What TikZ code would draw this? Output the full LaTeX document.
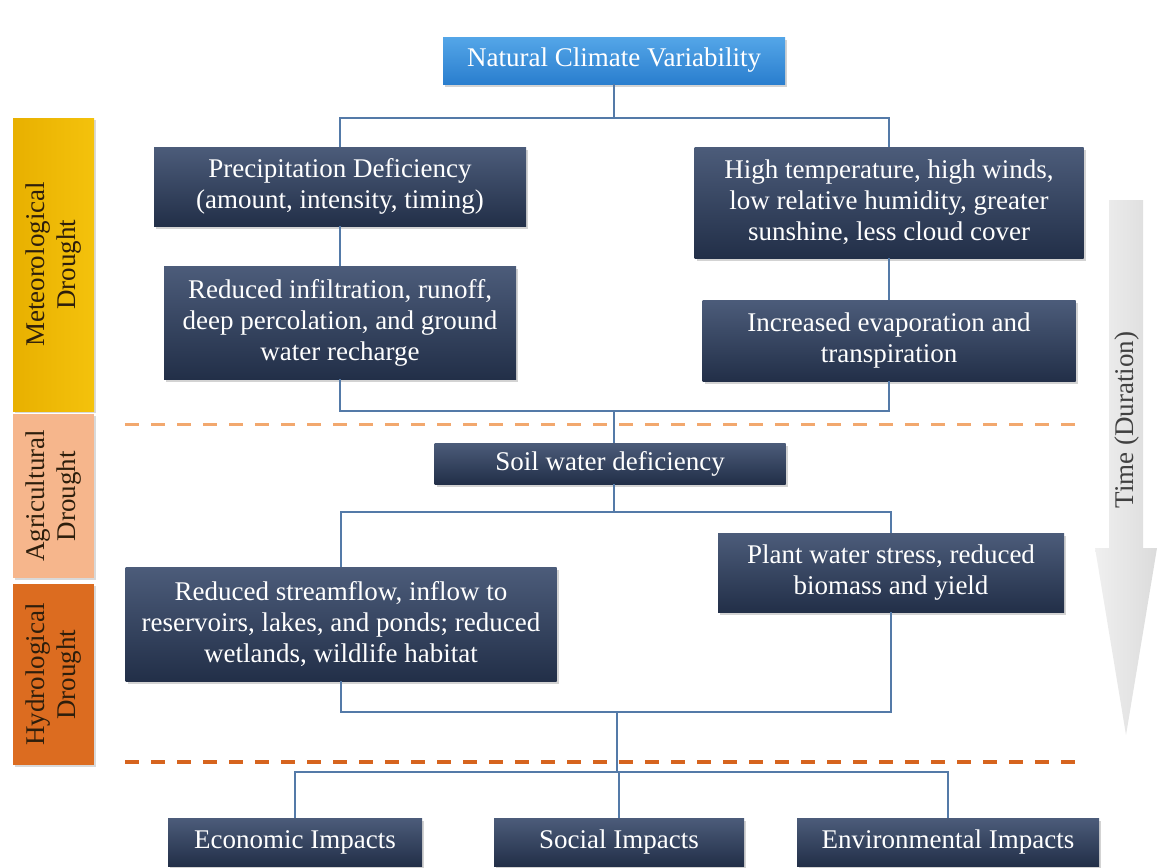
\documentclass[tikz,border=0pt]{standalone}
\usepackage{fontspec}
\setmainfont{Liberation Serif}
\usetikzlibrary{shadows}
\definecolor{boxtop}{RGB}{76,92,122}
\definecolor{boxbot}{RGB}{34,47,72}
\definecolor{bluetop}{RGB}{84,166,232}
\definecolor{bluebot}{RGB}{42,126,206}
\definecolor{connc}{RGB}{84,122,168}
\definecolor{metc}{RGB}{244,194,12}
\definecolor{metd}{RGB}{232,176,0}
\definecolor{agrc}{RGB}{246,182,140}
\definecolor{hydc}{RGB}{220,108,32}
\definecolor{dashA}{RGB}{242,168,110}
\definecolor{dashB}{RGB}{214,100,30}
\definecolor{bartext}{RGB}{45,30,12}
\tikzset{
  dbox/.style={rectangle, inner sep=0pt, align=center, text=white,
    top color=boxtop, bottom color=boxbot, draw=none,
    drop shadow={shadow xshift=1.2pt, shadow yshift=-1.5pt, opacity=0.35},
    font=\fontsize{13.5pt}{15.5pt}\selectfont},
  bbox/.style={dbox, top color=bluetop, bottom color=bluebot},
  conn/.style={draw=connc, line width=0.6pt},
  bar/.style={rectangle, inner sep=0pt, align=center, text=bartext, rotate=90,
    minimum height=40.5pt,
    drop shadow={shadow xshift=1pt, shadow yshift=-1.2pt, opacity=0.3},
    font=\fontsize{13.5pt}{15.5pt}\selectfont},
  sepline/.style={dash pattern=on 7pt off 6pt, line width=1.5pt}
}
\begin{document}
\begin{tikzpicture}[x=0.5pt, y=-0.5pt]
\useasboundingbox (0,0) rectangle (1159,867);
% separators
\draw[sepline, draw=dashA] (125,424) -- (1080,424);
\draw[sepline, draw=dashB, line width=2pt] (125,762) -- (1080,762);
% side bars
\node[bar, left color=metd, right color=metc, minimum width=146.5pt] (met) at (53.5,264.5) {Meteorological\\Drought};
\node[bar, fill=agrc, minimum width=82pt] (agr) at (53.5,496) {Agricultural\\Drought};
\node[bar, fill=hydc, minimum width=90.5pt] (hyd) at (53.5,674.5) {Hydrological\\Drought};
% time arrow
\path[left color=gray!12, right color=gray!28]
  (1109,200) -- (1143,200) -- (1143,548) -- (1157,548) -- (1126,735) -- (1095,548) -- (1109,548) -- cycle;
\node[rotate=90, text=black!75, font=\fontsize{13.5pt}{15.5pt}\selectfont] (time) at (1127,420) {Time (Duration)};
% boxes
\node[bbox, minimum width=171pt, minimum height=23.5pt] (nat) at (614,60.5) {Natural Climate Variability};
\node[dbox, minimum width=186pt, minimum height=39.5pt] (prec) at (340,186.5) {Precipitation Deficiency\\(amount, intensity, timing)};
\node[dbox, minimum width=176pt, minimum height=56.5pt] (redinf) at (340,322.5) {Reduced infiltration, runoff,\\deep percolation, and ground\\water recharge};
\node[dbox, minimum width=194.5pt, minimum height=55.5pt] (high) at (889,202.5) {High temperature, high winds,\\low relative humidity, greater\\sunshine, less cloud cover};
\node[dbox, minimum width=186.5pt, minimum height=40.5pt] (evap) at (889,340.5) {Increased evaporation and\\transpiration};
\node[dbox, minimum width=175.5pt, minimum height=20.5pt] (soil) at (610,463.5) {Soil water deficiency};
\node[dbox, minimum width=173pt, minimum height=39.5pt] (plant) at (891,572.5) {Plant water stress, reduced\\biomass and yield};
\node[dbox, minimum width=215.5pt, minimum height=57pt] (stream) at (341,624) {Reduced streamflow, inflow to\\reservoirs, lakes, and ponds; reduced\\wetlands, wildlife habitat};
\node[dbox, minimum width=127pt, minimum height=24pt] (econ) at (295,842) {Economic Impacts};
\node[dbox, minimum width=125pt, minimum height=24pt] (social) at (619,842) {Social Impacts};
\node[dbox, minimum width=151pt, minimum height=24pt] (env) at (948,842) {Environmental Impacts};
% junctions
\coordinate (j1) at (614,118);
\coordinate (j2) at (614,411);
\coordinate (j3) at (614,512);
\coordinate (j4) at (617,712);
\coordinate (j5) at (617,772);
% connectors
\draw[conn] (nat.south) -- (j1);
\draw[conn] (prec.north) |- (j1) -| (high.north);
\draw[conn] (prec.south) -- (redinf.north);
\draw[conn] (high.south) -- (evap.north);
\draw[conn] (redinf.south) |- (j2) -| (evap.south);
\draw[conn] (j2) -- (j2 |- soil.north);
\draw[conn] (j3 |- soil.south) -- (j3);
\draw[conn] (stream.north) |- (j3) -| (plant.north);
\draw[conn] (stream.south) |- (j4) -| (plant.south);
\draw[conn] (j4) -- (j5);
\draw[conn] (econ.north) |- (j5) -| (env.north);
\draw[conn] (social.north) -- (social.north |- j5);
\end{tikzpicture}
\end{document}
